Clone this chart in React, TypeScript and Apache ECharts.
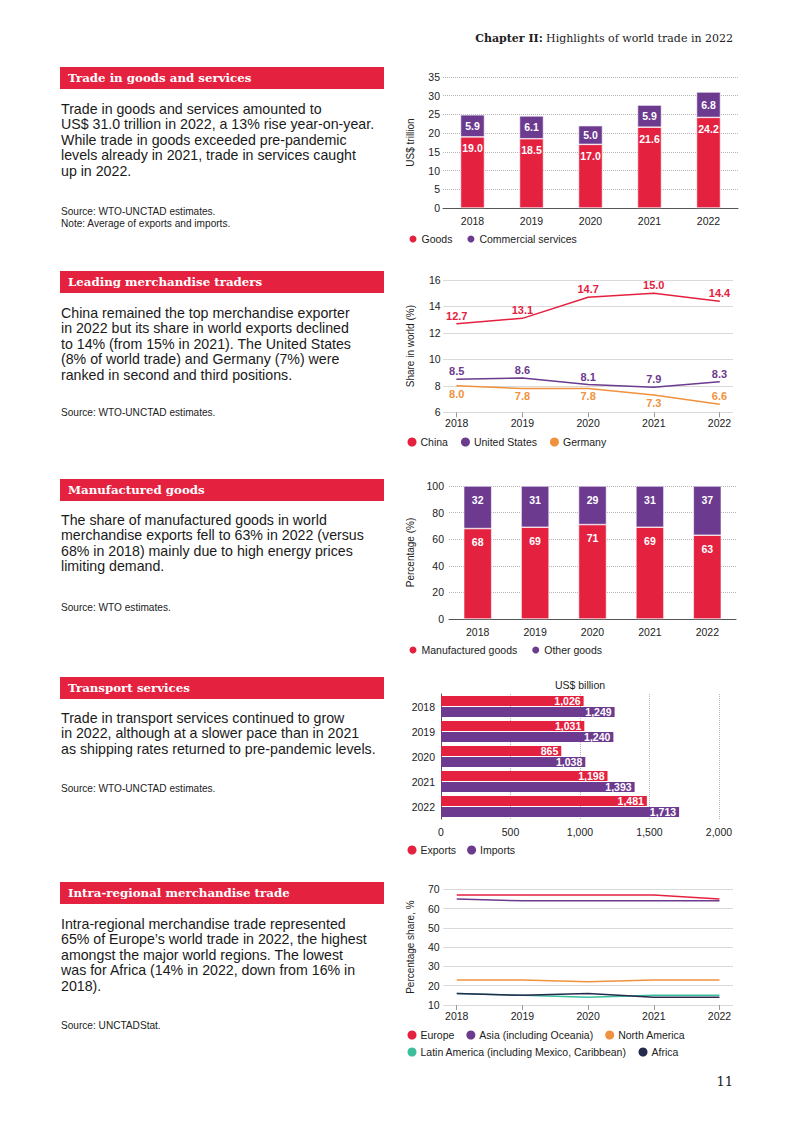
import React, { useEffect, useRef } from "react";
import * as echarts from "echarts";

// ---------- data ----------
const years = ["2018", "2019", "2020", "2021", "2022"];
const yearNums = [2018, 2019, 2020, 2021, 2022];

const goods = [19.0, 18.5, 17.0, 21.6, 24.2];
const commercialServices = [5.9, 6.1, 5.0, 5.9, 6.8];

const china = [12.7, 13.1, 14.7, 15.0, 14.4];
const unitedStates = [8.5, 8.6, 8.1, 7.9, 8.3];
const germany = [8.0, 7.8, 7.8, 7.3, 6.6];
const germanyLabelAbove = [false, false, false, false, true];

const manufacturedGoods = [68, 69, 71, 69, 63];
const otherGoods = [32, 31, 29, 31, 37];

const transportExports = [1026, 1031, 865, 1198, 1481];
const transportImports = [1249, 1240, 1038, 1393, 1713];

const europe = [67, 67, 67, 67, 65];
const asia = [65, 64, 64, 64, 64];
const northAmerica = [23, 23, 22, 23, 23];
const latinAmerica = [16, 15, 14, 15, 15];
const africa = [16, 15, 16, 14, 14];

const sectionTitles = [
  "Trade in goods and services",
  "Leading merchandise traders",
  "Manufactured goods",
  "Transport services",
  "Intra-regional merchandise trade",
];
const sectionParagraphs = [
  [
    "Trade in goods and services amounted to",
    "US$ 31.0 trillion in 2022, a 13% rise year-on-year.",
    "While trade in goods exceeded pre-pandemic",
    "levels already in 2021, trade in services caught",
    "up in 2022.",
  ],
  [
    "China remained the top merchandise exporter",
    "in 2022 but its share in world exports declined",
    "to 14% (from 15% in 2021). The United States",
    "(8% of world trade) and Germany (7%) were",
    "ranked in second and third positions.",
  ],
  [
    "The share of manufactured goods in world",
    "merchandise exports fell to 63% in 2022 (versus",
    "68% in 2018) mainly due to high energy prices",
    "limiting demand.",
  ],
  [
    "Trade in transport services continued to grow",
    "in 2022, although at a slower pace than in 2021",
    "as shipping rates returned to pre-pandemic levels.",
  ],
  [
    "Intra-regional merchandise trade represented",
    "65% of Europe\u2019s world trade in 2022, the highest",
    "amongst the major world regions. The lowest",
    "was for Africa (14% in 2022, down from 16% in",
    "2018).",
  ],
];
const sectionNotes = [
  ["Source: WTO-UNCTAD estimates.", "Note: Average of exports and imports."],
  ["Source: WTO-UNCTAD estimates."],
  ["Source: WTO estimates."],
  ["Source: WTO-UNCTAD estimates."],
  ["Source: UNCTADStat."],
];

// ---------- layout / style ----------
const sectionLayout = [
  { bar: 67, para: 101, note: 205 },
  { bar: 271, para: 305, note: 406 },
  { bar: 479, para: 512, note: 601 },
  { bar: 677, para: 710, note: 782 },
  { bar: 882, para: 916, note: 1019 },
];

const RED = "#e4213f";
const PURPLE = "#6c3a8f";
const ORANGE = "#f0923d";
const TEAL = "#3cbf9c";
const NAVY = "#262a4d";
const SANS = "'Liberation Sans', Arial, sans-serif";
const SERIF = "'DejaVu Serif', 'Liberation Serif', serif";
const TXT = "#222";

const gridLine = { show: true, lineStyle: { type: "dotted", color: "#b5b5b5", width: 1 } };
const axisLbl = { fontSize: 10.5, color: TXT, fontFamily: SANS };
const yName = (name: string, gap: number) => ({
  name,
  nameLocation: "middle",
  nameRotate: 90,
  nameGap: gap,
  nameTextStyle: { fontSize: 10, color: TXT, fontFamily: SANS },
});
const legendBase = {
  orient: "horizontal",
  icon: "circle",
  itemWidth: 9,
  itemHeight: 9,
  itemGap: 13,
  padding: 0,
  textStyle: { fontSize: 10.5, color: TXT, fontFamily: SANS, padding: [0, 0, 0, -1] },
};
const barLabel = (pos: string, dist: number, fmt: (v: number) => string) => ({
  show: true,
  position: pos,
  distance: dist,
  color: "#fff",
  fontWeight: "bold",
  fontSize: 10.5,
  fontFamily: SANS,
  formatter: (p: any) => fmt(p.value as number),
});

function buildGraphic() {
  const els: any[] = [];
  els.push({
    type: "text",
    x: 733,
    y: 38,
    style: {
      text: "{b|Chapter II:} {r|Highlights of world trade in 2022}",
      align: "right",
      verticalAlign: "middle",
      rich: {
        b: { fontFamily: SERIF, fontWeight: "bold", fontSize: 11, fill: "#222" },
        r: { fontFamily: SERIF, fontWeight: "normal", fontSize: 11, fill: "#222" },
      },
    },
  });
  sectionTitles.forEach((t, i) => {
    const L = sectionLayout[i];
    els.push({
      type: "rect",
      shape: { x: 60, y: L.bar, width: 324, height: 22 },
      style: { fill: RED },
    });
    els.push({
      type: "text",
      x: 68,
      y: L.bar + 11,
      style: {
        text: t,
        fill: "#fff",
        fontFamily: SERIF,
        fontWeight: "bold",
        fontSize: 11.8,
        verticalAlign: "middle",
      },
    });
    els.push({
      type: "text",
      x: 61,
      y: L.para,
      style: {
        text: sectionParagraphs[i].join("\n"),
        fill: "#1a1a1a",
        fontFamily: SANS,
        fontSize: 14.2,
        lineHeight: 15.5,
        verticalAlign: "top",
      },
    });
    els.push({
      type: "text",
      x: 61,
      y: L.note,
      style: {
        text: sectionNotes[i].join("\n"),
        fill: TXT,
        fontFamily: SANS,
        fontSize: 10.1,
        lineHeight: 12,
        verticalAlign: "top",
      },
    });
  });
  els.push({
    type: "text",
    x: 580,
    y: 685,
    style: {
      text: "US$ billion",
      fill: TXT,
      fontFamily: SANS,
      fontSize: 10.5,
      align: "center",
      verticalAlign: "middle",
    },
  });
  els.push({
    type: "text",
    x: 733,
    y: 1081,
    style: {
      text: "11",
      fill: "#222",
      fontFamily: SERIF,
      fontSize: 13,
      align: "right",
      verticalAlign: "middle",
    },
  });
  return els;
}

function buildOption(): any {
  const yearValueAxis = (gridIndex: number) => ({
    type: "value",
    gridIndex,
    min: 2017.8,
    max: 2022.2,
    axisLine: { show: false },
    splitLine: { show: false },
    axisTick: { show: true, customValues: yearNums, length: 5, lineStyle: { color: "#999" } },
    axisLabel: { ...axisLbl, customValues: yearNums, margin: 5, formatter: (v: number) => String(v) },
  });
  const lineLabel = (color: string, pos: string) => ({
    show: true,
    position: pos,
    distance: 2,
    color,
    fontWeight: "bold",
    fontSize: 11,
    fontFamily: SANS,
    formatter: (p: any) => (p.value[1] as number).toFixed(1),
  });
  const pairs = (arr: number[]) => yearNums.map((y, i) => [y, arr[i]]);
  const noLine = { axisLine: { show: false }, axisTick: { show: false } };

  return {
    animation: false,
    backgroundColor: "#fff",
    graphic: buildGraphic(),
    grid: [
      { left: 443, top: 77, width: 295, height: 131 },
      { left: 443.6, top: 280, width: 289, height: 132.3 },
      { left: 449, top: 486, width: 287, height: 133 },
      { left: 441, top: 694, width: 278, height: 125 },
      { left: 443.6, top: 889.3, width: 289, height: 115.7 },
    ],
    xAxis: [
      {
        type: "category",
        gridIndex: 0,
        data: years,
        axisLine: { lineStyle: { color: "#555" } },
        axisTick: { show: false },
        axisLabel: { ...axisLbl, margin: 7 },
      },
      yearValueAxis(1),
      {
        type: "category",
        gridIndex: 2,
        data: years,
        axisLine: { lineStyle: { color: "#555" } },
        axisTick: { show: false },
        axisLabel: { ...axisLbl, margin: 7 },
      },
      {
        type: "value",
        gridIndex: 3,
        min: 0,
        max: 2000,
        interval: 500,
        axisLine: { show: false },
        axisTick: { show: false },
        splitLine: gridLine,
        axisLabel: { ...axisLbl, margin: 7, formatter: (v: number) => v.toLocaleString("en-US") },
      },
      yearValueAxis(4),
    ],
    yAxis: [
      {
        type: "value",
        gridIndex: 0,
        min: 0,
        max: 35,
        interval: 5,
        ...noLine,
        splitLine: gridLine,
        axisLabel: { ...axisLbl, margin: 3 },
        ...yName("US$ trillion", 28),
      },
      {
        type: "value",
        gridIndex: 1,
        min: 6,
        max: 16,
        interval: 2,
        ...noLine,
        splitLine: gridLine,
        axisLabel: { ...axisLbl, margin: 3 },
        ...yName("Share in world (%)", 28),
      },
      {
        type: "value",
        gridIndex: 2,
        min: 0,
        max: 100,
        interval: 20,
        ...noLine,
        splitLine: gridLine,
        axisLabel: { ...axisLbl, margin: 5 },
        ...yName("Percentage (%)", 34),
      },
      {
        type: "category",
        gridIndex: 3,
        data: years,
        inverse: true,
        axisLine: { show: true, lineStyle: { color: "#555" } },
        axisTick: { show: false },
        axisLabel: { ...axisLbl, margin: 6 },
      },
      {
        type: "value",
        gridIndex: 4,
        min: 10,
        max: 70,
        interval: 10,
        ...noLine,
        splitLine: gridLine,
        axisLabel: { ...axisLbl, margin: 4 },
        ...yName("Percentage share, %", 28.6),
      },
    ],
    legend: [
      { ...legendBase, left: 407.5, top: 233.5, itemGap: 13, data: ["Goods", "Commercial services"] },
      { ...legendBase, left: 407.5, top: 436.5, data: ["China", "United States", "Germany"] },
      { ...legendBase, left: 407.5, top: 644.5, itemGap: 13, data: ["Manufactured goods", "Other goods"] },
      { ...legendBase, left: 407.5, top: 844.5, itemGap: 11, data: ["Exports", "Imports"] },
      { ...legendBase, left: 407.5, top: 1029.5, itemGap: 12, data: ["Europe", "Asia (including Oceania)", "North America"] },
      { ...legendBase, left: 407.5, top: 1046.5, itemGap: 12, data: ["Latin America (including Mexico, Caribbean)", "Africa"] },
    ],
    series: [
      // chart 1
      {
        name: "Goods",
        type: "bar",
        xAxisIndex: 0,
        yAxisIndex: 0,
        stack: "c1",
        barWidth: 24,
        data: goods,
        itemStyle: { color: RED, borderColor: "#fff", borderWidth: 0.6 },
        label: barLabel("insideTop", 6, (v) => v.toFixed(1)),
      },
      {
        name: "Commercial services",
        type: "bar",
        xAxisIndex: 0,
        yAxisIndex: 0,
        stack: "c1",
        barWidth: 24,
        data: commercialServices,
        itemStyle: { color: PURPLE, borderColor: "#fff", borderWidth: 0.6 },
        label: barLabel("inside", 0, (v) => v.toFixed(1)),
      },
      // chart 2
      {
        name: "China",
        type: "line",
        xAxisIndex: 1,
        yAxisIndex: 1,
        data: pairs(china),
        symbol: "circle",
        symbolSize: 1,
        itemStyle: { color: RED },
        lineStyle: { color: RED, width: 1.5 },
        label: lineLabel(RED, "top"),
      },
      {
        name: "United States",
        type: "line",
        xAxisIndex: 1,
        yAxisIndex: 1,
        data: pairs(unitedStates),
        symbol: "circle",
        symbolSize: 1,
        itemStyle: { color: PURPLE },
        lineStyle: { color: PURPLE, width: 1.5 },
        label: lineLabel(PURPLE, "top"),
      },
      {
        name: "Germany",
        type: "line",
        xAxisIndex: 1,
        yAxisIndex: 1,
        data: yearNums.map((y, i) => ({
          value: [y, germany[i]],
          label: { position: germanyLabelAbove[i] ? "top" : "bottom" },
        })),
        symbol: "circle",
        symbolSize: 1,
        itemStyle: { color: ORANGE },
        lineStyle: { color: ORANGE, width: 1.5 },
        label: lineLabel(ORANGE, "bottom"),
      },
      // chart 3
      {
        name: "Manufactured goods",
        type: "bar",
        xAxisIndex: 2,
        yAxisIndex: 2,
        stack: "c3",
        barWidth: 28,
        data: manufacturedGoods,
        itemStyle: { color: RED, borderColor: "#fff", borderWidth: 0.6 },
        label: barLabel("insideTop", 8, (v) => String(v)),
      },
      {
        name: "Other goods",
        type: "bar",
        xAxisIndex: 2,
        yAxisIndex: 2,
        stack: "c3",
        barWidth: 28,
        data: otherGoods,
        itemStyle: { color: PURPLE, borderColor: "#fff", borderWidth: 0.6 },
        label: barLabel("insideTop", 8, (v) => String(v)),
      },
      // chart 4
      {
        name: "Exports",
        type: "bar",
        xAxisIndex: 3,
        yAxisIndex: 3,
        barWidth: 10,
        barGap: "8%",
        data: transportExports,
        itemStyle: { color: RED },
        label: barLabel("insideRight", 3, (v) => v.toLocaleString("en-US")),
      },
      {
        name: "Imports",
        type: "bar",
        xAxisIndex: 3,
        yAxisIndex: 3,
        barWidth: 10,
        barGap: "8%",
        data: transportImports,
        itemStyle: { color: PURPLE },
        label: barLabel("insideRight", 3, (v) => v.toLocaleString("en-US")),
      },
      // chart 5
      ...[
        { name: "Europe", data: europe, color: RED },
        { name: "Asia (including Oceania)", data: asia, color: PURPLE },
        { name: "North America", data: northAmerica, color: ORANGE },
        { name: "Latin America (including Mexico, Caribbean)", data: latinAmerica, color: TEAL },
        { name: "Africa", data: africa, color: NAVY },
      ].map((s) => ({
        name: s.name,
        type: "line",
        xAxisIndex: 4,
        yAxisIndex: 4,
        data: pairs(s.data),
        symbol: "none",
        itemStyle: { color: s.color },
        lineStyle: { color: s.color, width: 1.5 },
      })),
    ],
  };
}

export default function App() {
  const ref = useRef<HTMLDivElement>(null);
  useEffect(() => {
    if (!ref.current) return;
    const chart = echarts.init(ref.current, undefined, { renderer: "svg" });
    chart.setOption(buildOption());
    return () => chart.dispose();
  }, []);
  return (
    <div
      ref={ref}
      style={{ position: "absolute", left: 0, top: 0, width: 793, height: 1122, background: "#fff" }}
    />
  );
}
